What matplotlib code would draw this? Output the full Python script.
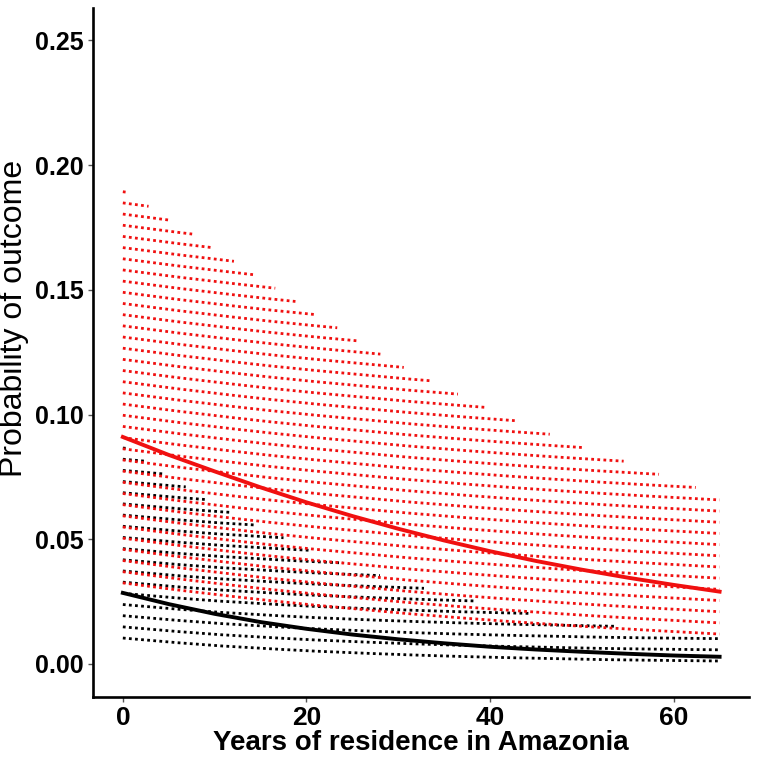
import numpy as np
import matplotlib
matplotlib.use("Agg")
import matplotlib.pyplot as plt

plt.rcParams['font.family'] = ['Liberation Sans', 'DejaVu Sans']

# years of residence (x) and read-off probabilities
years = [0, 5, 10, 15, 20, 25, 30, 35, 40, 45, 50, 55, 60, 65]

red_fit = [0.0910, 0.0838, 0.0772, 0.0708, 0.0648, 0.0593, 0.0542,
           0.0495, 0.0452, 0.0413, 0.0378, 0.0346, 0.0317, 0.0290]
red_lower = [0.0325, 0.0301, 0.0279, 0.0258, 0.0239, 0.0222, 0.0205,
             0.0190, 0.0176, 0.0163, 0.0151, 0.0140, 0.0130, 0.0120]
red_upper = [0.1900, 0.1785, 0.1665, 0.1545, 0.1425, 0.1310, 0.1200,
             0.1108, 0.1023, 0.0944, 0.0868, 0.0808, 0.0738, 0.0675]

black_fit = [0.0285, 0.0240, 0.0201, 0.0168, 0.0141, 0.0118, 0.0099,
             0.0083, 0.0069, 0.0058, 0.0049, 0.0041, 0.0034, 0.0029]
black_lower = [0.0104, 0.0088, 0.0074, 0.0063, 0.0053, 0.0045, 0.0038,
               0.0032, 0.0027, 0.0023, 0.0019, 0.0016, 0.0014, 0.0012]
black_upper = [0.0880, 0.0752, 0.0641, 0.0550, 0.0463, 0.0390, 0.0331,
               0.0282, 0.0237, 0.0198, 0.0168, 0.0145, 0.0127, 0.0113]

y_ticks = [0.00, 0.05, 0.10, 0.15, 0.20, 0.25]
x_ticks = [0, 20, 40, 60]

fig = plt.figure(figsize=(7.58, 7.60), dpi=100)
ax = fig.add_axes([0.1227, 0.083, 0.866, 0.906])


def dotted_band(ax, x, lower, upper, color, step=0.00448):
    # band drawn as stacked dotted copies of the lower bound, cut at the upper bound
    xf = np.linspace(x[0], x[-1], 1301)
    lo = np.interp(xf, x, lower)
    hi = np.interp(xf, x, upper)
    n = int((max(upper) - lower[0]) / step) + 1
    for k in range(n + 1):
        yk = lo + k * step
        yk = np.where(yk <= hi + 1e-9, yk, np.nan)
        if np.all(np.isnan(yk)):
            continue
        ax.plot(xf, yk, color=color, lw=2.0, linestyle=(0, (1, 1.2)),
                dash_capstyle='butt', solid_capstyle='butt')


dotted_band(ax, years, black_lower, black_upper, 'black')
dotted_band(ax, years, red_lower, red_upper, '#f01010')

ax.plot(years, black_fit, color='black', lw=2.8)
ax.plot(years, red_fit, color='#f01010', lw=2.8)

ax.set_xlim(-3.25, 68.25)
ax.set_ylim(-0.0132, 0.2628)
ax.set_xticks(x_ticks)
ax.set_yticks(y_ticks)
ax.set_yticklabels([f"{v:.2f}" for v in y_ticks])

for s in ['top', 'right']:
    ax.spines[s].set_visible(False)
for s in ['left', 'bottom']:
    ax.spines[s].set_linewidth(1.9)
    ax.spines[s].set_color('black')

ax.tick_params(axis='both', direction='out', length=3.5, width=1.0,
               color='#555555', labelsize=18, pad=3)
ax.tick_params(axis='x', labelsize=19)
for lab in ax.get_xticklabels() + ax.get_yticklabels():
    lab.set_fontweight('bold')

ax.set_xlabel("Years of residence in Amazonia", fontsize=20,
              fontweight='bold', labelpad=0)
ax.set_ylabel("Probability of outcome", fontsize=23)
ax.yaxis.set_label_coords(-0.097, 0.55)

fig.savefig("out.png", dpi=100)
